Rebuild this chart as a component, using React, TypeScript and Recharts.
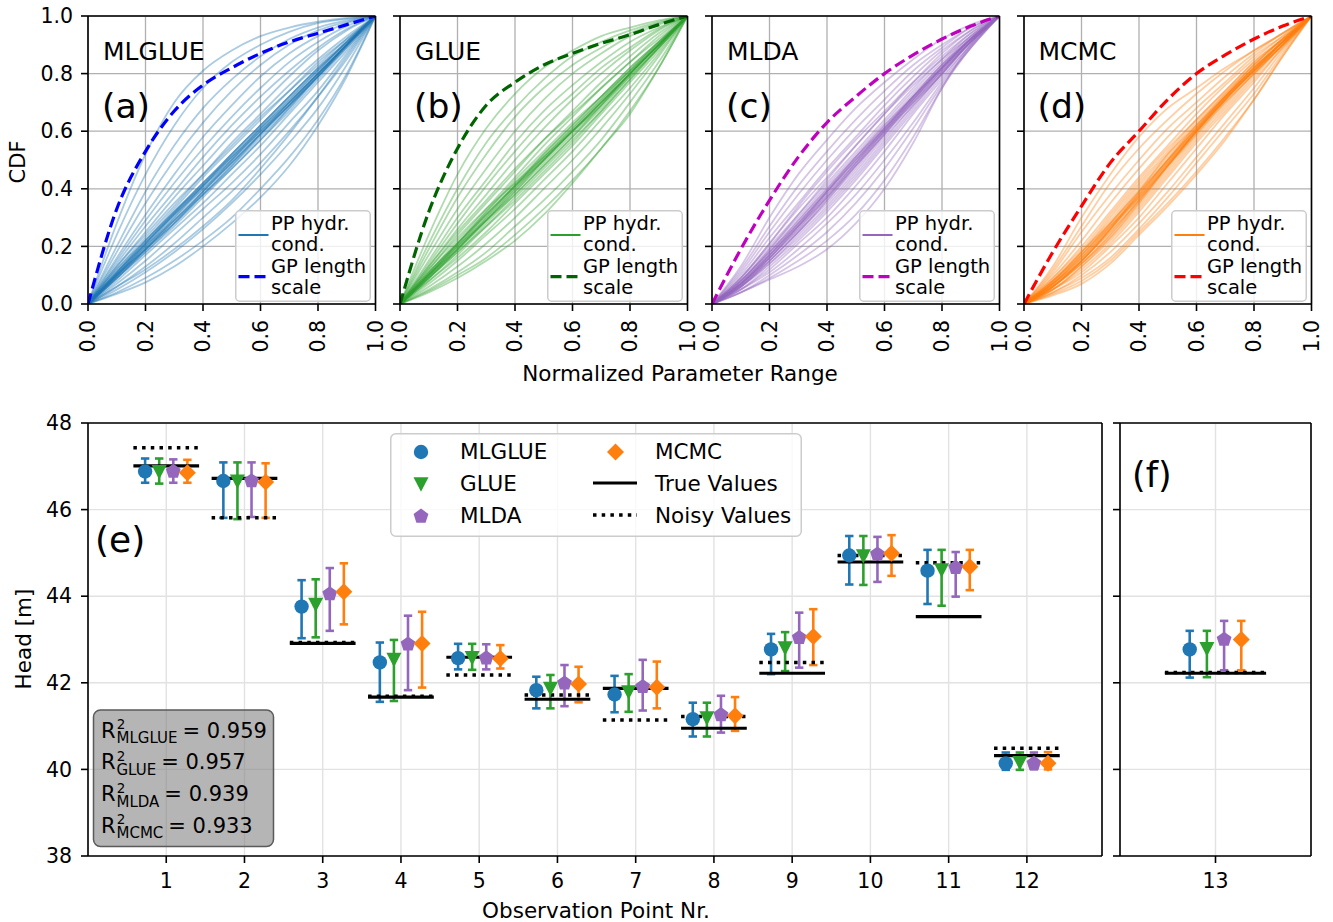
import React from 'react';
import {
  LineChart,
  Line,
  XAxis,
  YAxis,
  CartesianGrid,
  ReferenceLine,
  ScatterChart,
  Scatter,
  ErrorBar,
  Legend,
} from 'recharts';

const FONT = "'DejaVu Sans', 'Noto Sans', sans-serif";

// ---------------- top row: CDF data ----------------
const X_GRID = [0, 0.1, 0.2, 0.3, 0.4, 0.5, 0.6, 0.7, 0.8, 0.9, 1.0];
const CDF_TICKS = [0, 0.2, 0.4, 0.6, 0.8, 1.0];

const MLGLUE_CDFS = [
  [0, 0.28, 0.52, 0.7, 0.81, 0.88, 0.93, 0.96, 0.98, 0.993, 1],
  [0, 0.24, 0.45, 0.62, 0.75, 0.84, 0.9, 0.945, 0.975, 0.99, 1],
  [0, 0.2, 0.39, 0.55, 0.68, 0.78, 0.86, 0.92, 0.96, 0.985, 1],
  [0, 0.18, 0.35, 0.5, 0.63, 0.74, 0.83, 0.9, 0.95, 0.98, 1],
  [0, 0.16, 0.31, 0.45, 0.58, 0.69, 0.79, 0.87, 0.93, 0.975, 1],
  [0, 0.15, 0.29, 0.42, 0.54, 0.65, 0.75, 0.84, 0.91, 0.965, 1],
  [0, 0.14, 0.27, 0.39, 0.51, 0.62, 0.72, 0.81, 0.89, 0.955, 1],
  [0, 0.13, 0.25, 0.37, 0.48, 0.59, 0.69, 0.79, 0.88, 0.95, 1],
  [0, 0.12, 0.23, 0.34, 0.45, 0.56, 0.66, 0.76, 0.85, 0.93, 1],
  [0, 0.11, 0.22, 0.33, 0.44, 0.54, 0.64, 0.74, 0.84, 0.92, 1],
  [0, 0.11, 0.21, 0.32, 0.42, 0.52, 0.62, 0.72, 0.82, 0.91, 1],
  [0, 0.1, 0.2, 0.31, 0.41, 0.51, 0.61, 0.71, 0.81, 0.91, 1],
  [0, 0.1, 0.2, 0.3, 0.4, 0.5, 0.6, 0.7, 0.8, 0.9, 1],
  [0, 0.1, 0.19, 0.29, 0.39, 0.49, 0.59, 0.69, 0.79, 0.9, 1],
  [0, 0.09, 0.19, 0.28, 0.38, 0.48, 0.58, 0.68, 0.79, 0.89, 1],
  [0, 0.1, 0.21, 0.31, 0.41, 0.51, 0.61, 0.7, 0.8, 0.9, 1],
  [0, 0.09, 0.18, 0.27, 0.37, 0.47, 0.57, 0.67, 0.78, 0.89, 1],
  [0, 0.11, 0.21, 0.31, 0.4, 0.49, 0.59, 0.69, 0.8, 0.9, 1],
  [0, 0.09, 0.18, 0.28, 0.39, 0.5, 0.61, 0.71, 0.81, 0.91, 1],
  [0, 0.08, 0.17, 0.26, 0.35, 0.45, 0.55, 0.66, 0.77, 0.88, 1],
  [0, 0.07, 0.15, 0.24, 0.33, 0.42, 0.52, 0.63, 0.74, 0.87, 1],
  [0, 0.06, 0.13, 0.21, 0.3, 0.39, 0.49, 0.6, 0.72, 0.85, 1],
  [0, 0.05, 0.11, 0.18, 0.26, 0.35, 0.45, 0.56, 0.68, 0.83, 1],
  [0, 0.04, 0.09, 0.15, 0.22, 0.3, 0.4, 0.51, 0.64, 0.8, 1],
  [0, 0.035, 0.075, 0.13, 0.2, 0.28, 0.37, 0.48, 0.62, 0.79, 1],
  [0, 0.06, 0.12, 0.19, 0.27, 0.36, 0.47, 0.59, 0.72, 0.86, 1],
  [0, 0.105, 0.21, 0.315, 0.42, 0.52, 0.62, 0.72, 0.815, 0.905, 1],
  [0, 0.095, 0.19, 0.29, 0.39, 0.49, 0.59, 0.69, 0.79, 0.895, 1],
  [0, 0.1, 0.2, 0.29, 0.38, 0.47, 0.57, 0.68, 0.79, 0.9, 1],
  [0, 0.12, 0.22, 0.32, 0.41, 0.5, 0.6, 0.7, 0.8, 0.9, 1],
  [0, 0.09, 0.19, 0.3, 0.41, 0.52, 0.62, 0.72, 0.82, 0.91, 1],
  [0, 0.11, 0.22, 0.32, 0.42, 0.51, 0.6, 0.69, 0.79, 0.9, 1],
  [0, 0.1, 0.19, 0.28, 0.38, 0.48, 0.59, 0.7, 0.8, 0.9, 1],
  [0, 0.13, 0.24, 0.35, 0.45, 0.55, 0.65, 0.74, 0.83, 0.92, 1],
];
const MLGLUE_GP = [0, 0.33, 0.53, 0.67, 0.76, 0.82, 0.87, 0.91, 0.94, 0.97, 1];

const GLUE_CDFS = [
  [0, 0.24, 0.45, 0.61, 0.73, 0.82, 0.88, 0.93, 0.96, 0.985, 1],
  [0, 0.21, 0.4, 0.56, 0.68, 0.78, 0.86, 0.91, 0.95, 0.98, 1],
  [0, 0.19, 0.37, 0.52, 0.65, 0.75, 0.83, 0.89, 0.94, 0.975, 1],
  [0, 0.17, 0.33, 0.47, 0.6, 0.71, 0.8, 0.87, 0.93, 0.97, 1],
  [0, 0.15, 0.3, 0.43, 0.56, 0.67, 0.76, 0.84, 0.91, 0.96, 1],
  [0, 0.14, 0.28, 0.41, 0.53, 0.64, 0.73, 0.82, 0.89, 0.955, 1],
  [0, 0.13, 0.26, 0.38, 0.5, 0.61, 0.71, 0.8, 0.88, 0.95, 1],
  [0, 0.12, 0.24, 0.35, 0.46, 0.57, 0.67, 0.77, 0.86, 0.94, 1],
  [0, 0.11, 0.22, 0.33, 0.44, 0.55, 0.65, 0.75, 0.84, 0.93, 1],
  [0, 0.11, 0.21, 0.32, 0.42, 0.52, 0.62, 0.72, 0.82, 0.91, 1],
  [0, 0.1, 0.2, 0.31, 0.41, 0.51, 0.61, 0.71, 0.81, 0.91, 1],
  [0, 0.1, 0.2, 0.3, 0.4, 0.5, 0.6, 0.7, 0.8, 0.9, 1],
  [0, 0.1, 0.19, 0.29, 0.39, 0.49, 0.59, 0.69, 0.8, 0.9, 1],
  [0, 0.09, 0.19, 0.29, 0.39, 0.5, 0.6, 0.7, 0.8, 0.9, 1],
  [0, 0.09, 0.18, 0.28, 0.38, 0.48, 0.58, 0.68, 0.79, 0.89, 1],
  [0, 0.1, 0.21, 0.32, 0.43, 0.53, 0.63, 0.72, 0.81, 0.9, 1],
  [0, 0.08, 0.17, 0.27, 0.37, 0.47, 0.57, 0.67, 0.78, 0.89, 1],
  [0, 0.09, 0.18, 0.27, 0.36, 0.46, 0.56, 0.67, 0.78, 0.89, 1],
  [0, 0.08, 0.16, 0.25, 0.35, 0.45, 0.55, 0.66, 0.77, 0.88, 1],
  [0, 0.07, 0.15, 0.24, 0.33, 0.43, 0.53, 0.64, 0.75, 0.87, 1],
  [0, 0.06, 0.13, 0.21, 0.3, 0.4, 0.5, 0.61, 0.73, 0.86, 1],
  [0, 0.05, 0.11, 0.18, 0.27, 0.36, 0.46, 0.57, 0.7, 0.84, 1],
  [0, 0.045, 0.1, 0.16, 0.24, 0.33, 0.43, 0.54, 0.67, 0.82, 1],
  [0, 0.04, 0.09, 0.15, 0.22, 0.31, 0.42, 0.54, 0.66, 0.82, 1],
  [0, 0.105, 0.21, 0.31, 0.41, 0.51, 0.61, 0.71, 0.81, 0.905, 1],
  [0, 0.095, 0.19, 0.29, 0.4, 0.5, 0.6, 0.7, 0.8, 0.9, 1],
  [0, 0.1, 0.2, 0.29, 0.38, 0.48, 0.58, 0.69, 0.8, 0.9, 1],
  [0, 0.12, 0.23, 0.33, 0.42, 0.51, 0.6, 0.7, 0.8, 0.9, 1],
  [0, 0.09, 0.19, 0.3, 0.41, 0.52, 0.62, 0.72, 0.82, 0.91, 1],
  [0, 0.11, 0.21, 0.31, 0.41, 0.5, 0.6, 0.69, 0.79, 0.89, 1],
  [0, 0.13, 0.25, 0.36, 0.47, 0.57, 0.66, 0.75, 0.84, 0.92, 1],
];
const GLUE_GP = [0, 0.32, 0.54, 0.69, 0.77, 0.83, 0.87, 0.905, 0.935, 0.97, 1];

const MLDA_CDFS = [
  [0, 0.13, 0.3, 0.45, 0.57, 0.68, 0.77, 0.85, 0.92, 0.97, 1],
  [0, 0.12, 0.27, 0.41, 0.53, 0.64, 0.74, 0.83, 0.9, 0.96, 1],
  [0, 0.11, 0.25, 0.38, 0.5, 0.61, 0.71, 0.81, 0.89, 0.96, 1],
  [0, 0.1, 0.23, 0.35, 0.47, 0.58, 0.69, 0.79, 0.88, 0.95, 1],
  [0, 0.09, 0.21, 0.33, 0.44, 0.55, 0.66, 0.77, 0.87, 0.95, 1],
  [0, 0.09, 0.2, 0.31, 0.42, 0.53, 0.64, 0.75, 0.85, 0.94, 1],
  [0, 0.08, 0.19, 0.3, 0.41, 0.52, 0.63, 0.74, 0.84, 0.93, 1],
  [0, 0.08, 0.18, 0.29, 0.4, 0.51, 0.62, 0.73, 0.83, 0.93, 1],
  [0, 0.07, 0.17, 0.28, 0.39, 0.5, 0.61, 0.72, 0.82, 0.92, 1],
  [0, 0.07, 0.17, 0.27, 0.38, 0.49, 0.6, 0.71, 0.82, 0.92, 1],
  [0, 0.07, 0.16, 0.26, 0.37, 0.48, 0.59, 0.7, 0.81, 0.92, 1],
  [0, 0.06, 0.15, 0.25, 0.36, 0.47, 0.59, 0.7, 0.81, 0.91, 1],
  [0, 0.06, 0.15, 0.25, 0.35, 0.46, 0.58, 0.69, 0.8, 0.91, 1],
  [0, 0.06, 0.14, 0.24, 0.34, 0.45, 0.57, 0.69, 0.8, 0.91, 1],
  [0, 0.07, 0.16, 0.27, 0.39, 0.51, 0.62, 0.72, 0.82, 0.91, 1],
  [0, 0.05, 0.13, 0.22, 0.32, 0.43, 0.55, 0.67, 0.79, 0.9, 1],
  [0, 0.05, 0.12, 0.21, 0.3, 0.41, 0.53, 0.66, 0.78, 0.9, 1],
  [0, 0.05, 0.11, 0.19, 0.28, 0.38, 0.5, 0.63, 0.77, 0.89, 1],
  [0, 0.04, 0.1, 0.17, 0.25, 0.35, 0.47, 0.61, 0.76, 0.89, 1],
  [0, 0.04, 0.09, 0.15, 0.22, 0.31, 0.43, 0.58, 0.75, 0.89, 1],
  [0, 0.04, 0.085, 0.13, 0.19, 0.28, 0.4, 0.56, 0.75, 0.9, 1],
  [0, 0.08, 0.19, 0.31, 0.43, 0.55, 0.66, 0.76, 0.85, 0.93, 1],
  [0, 0.06, 0.14, 0.23, 0.33, 0.44, 0.56, 0.68, 0.8, 0.91, 1],
  [0, 0.09, 0.21, 0.34, 0.46, 0.57, 0.67, 0.77, 0.86, 0.94, 1],
  [0, 0.07, 0.17, 0.28, 0.39, 0.5, 0.61, 0.71, 0.81, 0.91, 1],
  [0, 0.065, 0.16, 0.27, 0.38, 0.49, 0.6, 0.71, 0.82, 0.92, 1],
  [0, 0.075, 0.18, 0.29, 0.4, 0.51, 0.61, 0.72, 0.82, 0.92, 1],
  [0, 0.06, 0.16, 0.26, 0.37, 0.49, 0.61, 0.72, 0.83, 0.92, 1],
  [0, 0.07, 0.17, 0.27, 0.37, 0.48, 0.59, 0.71, 0.82, 0.92, 1],
  [0, 0.08, 0.18, 0.28, 0.39, 0.5, 0.6, 0.7, 0.8, 0.91, 1],
  [0, 0.065, 0.15, 0.25, 0.36, 0.48, 0.6, 0.72, 0.83, 0.92, 1],
];
const MLDA_GP = [0, 0.19, 0.36, 0.51, 0.63, 0.72, 0.8, 0.865, 0.92, 0.965, 1];

const MCMC_CDFS = [
  [0, 0.13, 0.3, 0.45, 0.58, 0.68, 0.75, 0.82, 0.88, 0.94, 1],
  [0, 0.12, 0.27, 0.42, 0.54, 0.64, 0.73, 0.81, 0.88, 0.94, 1],
  [0, 0.11, 0.25, 0.38, 0.5, 0.61, 0.7, 0.79, 0.87, 0.94, 1],
  [0, 0.1, 0.22, 0.35, 0.47, 0.58, 0.68, 0.77, 0.86, 0.93, 1],
  [0, 0.09, 0.2, 0.32, 0.44, 0.55, 0.66, 0.76, 0.85, 0.93, 1],
  [0, 0.08, 0.18, 0.3, 0.42, 0.53, 0.64, 0.74, 0.84, 0.92, 1],
  [0, 0.08, 0.17, 0.28, 0.4, 0.51, 0.62, 0.73, 0.83, 0.92, 1],
  [0, 0.07, 0.16, 0.27, 0.38, 0.5, 0.61, 0.72, 0.82, 0.91, 1],
  [0, 0.07, 0.15, 0.26, 0.37, 0.49, 0.6, 0.71, 0.81, 0.91, 1],
  [0, 0.06, 0.15, 0.25, 0.36, 0.48, 0.6, 0.71, 0.81, 0.91, 1],
  [0, 0.06, 0.14, 0.24, 0.35, 0.47, 0.59, 0.7, 0.8, 0.9, 1],
  [0, 0.06, 0.14, 0.23, 0.34, 0.46, 0.58, 0.69, 0.8, 0.9, 1],
  [0, 0.07, 0.16, 0.26, 0.38, 0.5, 0.62, 0.72, 0.82, 0.91, 1],
  [0, 0.05, 0.13, 0.22, 0.33, 0.45, 0.57, 0.68, 0.79, 0.9, 1],
  [0, 0.05, 0.12, 0.21, 0.32, 0.44, 0.56, 0.67, 0.78, 0.89, 1],
  [0, 0.05, 0.11, 0.2, 0.3, 0.42, 0.54, 0.66, 0.77, 0.89, 1],
  [0, 0.04, 0.1, 0.18, 0.28, 0.39, 0.51, 0.63, 0.75, 0.88, 1],
  [0, 0.04, 0.09, 0.16, 0.26, 0.37, 0.49, 0.61, 0.73, 0.87, 1],
  [0, 0.035, 0.08, 0.15, 0.25, 0.35, 0.46, 0.58, 0.71, 0.86, 1],
  [0, 0.03, 0.07, 0.14, 0.24, 0.34, 0.45, 0.57, 0.71, 0.86, 1],
  [0, 0.09, 0.19, 0.31, 0.43, 0.54, 0.64, 0.74, 0.84, 0.92, 1],
  [0, 0.06, 0.15, 0.26, 0.39, 0.52, 0.63, 0.73, 0.83, 0.92, 1],
  [0, 0.05, 0.13, 0.23, 0.35, 0.48, 0.6, 0.71, 0.81, 0.91, 1],
  [0, 0.08, 0.18, 0.29, 0.41, 0.52, 0.62, 0.72, 0.81, 0.9, 1],
  [0, 0.07, 0.16, 0.27, 0.38, 0.49, 0.6, 0.71, 0.81, 0.91, 1],
  [0, 0.065, 0.15, 0.26, 0.37, 0.49, 0.61, 0.72, 0.82, 0.91, 1],
  [0, 0.075, 0.17, 0.28, 0.39, 0.5, 0.61, 0.71, 0.81, 0.9, 1],
  [0, 0.06, 0.15, 0.25, 0.36, 0.48, 0.6, 0.71, 0.82, 0.91, 1],
  [0, 0.07, 0.17, 0.27, 0.37, 0.48, 0.59, 0.7, 0.8, 0.9, 1],
  [0, 0.08, 0.18, 0.28, 0.39, 0.5, 0.61, 0.72, 0.82, 0.91, 1],
  [0, 0.06, 0.14, 0.24, 0.36, 0.48, 0.6, 0.72, 0.83, 0.92, 1],
];
const MCMC_GP = [0, 0.18, 0.34, 0.49, 0.6, 0.71, 0.8, 0.865, 0.92, 0.965, 1];

// ---------------- bottom row: head data ----------------
const OBS = [1, 2, 3, 4, 5, 6, 7, 8, 9, 10, 11, 12, 13];
const OBS_TICKS_E = [1, 2, 3, 4, 5, 6, 7, 8, 9, 10, 11, 12];
const OBS_TICKS_F = [13];
const HEAD_TICKS = [38, 40, 42, 44, 46, 48];

const TRUE_VALUES = [47.01, 46.72, 42.91, 41.67, 42.59, 41.62, 41.87, 40.95, 42.22, 44.79, 43.53, 40.32, 42.22];
const NOISY_VALUES = [47.43, 45.81, 42.93, 41.69, 42.18, 41.72, 41.14, 41.22, 42.47, 44.94, 44.77, 40.49, 42.24];

const MLGLUE_MEAN = [46.88, 46.66, 43.76, 42.47, 42.57, 41.83, 41.73, 41.16, 42.77, 44.94, 44.59, 40.14, 42.77];
const MLGLUE_LOW = [46.62, 45.81, 43.03, 41.56, 42.31, 41.41, 41.32, 40.76, 42.2, 44.27, 43.82, 39.99, 42.12];
const MLGLUE_HIGH = [47.18, 47.09, 44.37, 42.93, 42.9, 42.14, 42.16, 41.54, 43.13, 45.39, 45.07, 40.39, 43.2];

const GLUE_MEAN = [46.87, 46.65, 43.8, 42.53, 42.57, 41.86, 41.78, 41.18, 42.8, 44.92, 44.6, 40.15, 42.78];
const GLUE_LOW = [46.6, 45.78, 43.05, 41.58, 42.3, 41.41, 41.33, 40.76, 42.27, 44.26, 43.78, 39.99, 42.13];
const GLUE_HIGH = [47.18, 47.09, 44.39, 42.99, 42.9, 42.18, 42.2, 41.54, 43.17, 45.39, 45.07, 40.39, 43.2];

const MLDA_MEAN = [46.88, 46.66, 44.05, 42.89, 42.57, 41.99, 41.91, 41.26, 43.04, 44.97, 44.66, 40.14, 43.0];
const MLDA_LOW = [46.62, 45.83, 43.2, 41.83, 42.31, 41.46, 41.36, 40.85, 42.35, 44.33, 43.99, 40.0, 42.29];
const MLDA_HIGH = [47.16, 47.09, 44.65, 43.55, 42.89, 42.41, 42.53, 41.7, 43.62, 45.37, 45.02, 40.39, 43.43];

const MCMC_MEAN = [46.85, 46.64, 44.1, 42.91, 42.56, 41.97, 41.9, 41.24, 43.07, 44.99, 44.68, 40.14, 43.0];
const MCMC_LOW = [46.62, 45.81, 43.35, 41.89, 42.33, 41.55, 41.41, 40.89, 42.41, 44.47, 44.14, 40.0, 42.29];
const MCMC_HIGH = [47.15, 47.07, 44.76, 43.64, 42.87, 42.37, 42.49, 41.67, 43.7, 45.41, 45.07, 40.4, 43.43];

const R2_NAMES = ['MLGLUE', 'GLUE', 'MLDA', 'MCMC'];
const R2_VALUES = ['0.959', '0.957', '0.939', '0.933'];

// ---------------- styling / layout constants ----------------
const COLORS = ['#1f77b4', '#2ca02c', '#9467bd', '#ff7f0e'];
const GP_COLORS = ['#0000ff', '#006400', '#bf00bf', '#ff0000'];
const METHOD_OFFSETS = [-0.27, -0.09, 0.09, 0.27];
const HALF_E = 0.42;
const HALF_F = 0.53;

const TOP_Y = 16;
const PANEL_W = 287.5;
const PANEL_H = 288;
const AXW = 80;
const RM = 14;
const XAH = 62;
const PANEL_LEFTS = [88, 400, 712, 1023.5];

type Kind = 'circle' | 'triangleDown' | 'pentagon' | 'diamond';

const PANELS = [
  { name: 'MLGLUE', tag: '(a)', curves: MLGLUE_CDFS, gp: MLGLUE_GP },
  { name: 'GLUE', tag: '(b)', curves: GLUE_CDFS, gp: GLUE_GP },
  { name: 'MLDA', tag: '(c)', curves: MLDA_CDFS, gp: MLDA_GP },
  { name: 'MCMC', tag: '(d)', curves: MCMC_CDFS, gp: MCMC_GP },
];

const METHODS: { name: string; kind: Kind; mean: number[]; low: number[]; high: number[] }[] = [
  { name: 'MLGLUE', kind: 'circle', mean: MLGLUE_MEAN, low: MLGLUE_LOW, high: MLGLUE_HIGH },
  { name: 'GLUE', kind: 'triangleDown', mean: GLUE_MEAN, low: GLUE_LOW, high: GLUE_HIGH },
  { name: 'MLDA', kind: 'pentagon', mean: MLDA_MEAN, low: MLDA_LOW, high: MLDA_HIGH },
  { name: 'MCMC', kind: 'diamond', mean: MCMC_MEAN, low: MCMC_LOW, high: MCMC_HIGH },
];

const toLineData = (vals: number[]) => X_GRID.map((x, i) => ({ x, y: vals[i] }));

const methodData = (k: number, from: number, to: number) => {
  const m = METHODS[k];
  const out: { x: number; y: number; err: number[] }[] = [];
  for (let i = from; i < to; i++) {
    out.push({
      x: OBS[i] + METHOD_OFFSETS[k],
      y: m.mean[i],
      err: [m.mean[i] - m.low[i], m.high[i] - m.mean[i]],
    });
  }
  return out;
};

function Marker({ kind, cx, cy, color }: { kind: Kind; cx: number; cy: number; color: string }) {
  if (cx == null || cy == null || isNaN(cx) || isNaN(cy)) return <g />;
  if (kind === 'circle') return <circle cx={cx} cy={cy} r={7.2} fill={color} />;
  if (kind === 'triangleDown')
    return <path d={`M${cx - 7.5},${cy - 7} L${cx + 7.5},${cy - 7} L${cx},${cy + 7.5} Z`} fill={color} />;
  if (kind === 'pentagon') {
    const pts = [0, 1, 2, 3, 4]
      .map((k) => {
        const a = ((-90 + 72 * k) * Math.PI) / 180;
        return `${cx + 7.8 * Math.cos(a)},${cy + 7.8 * Math.sin(a)}`;
      })
      .join(' ');
    return <polygon points={pts} fill={color} />;
  }
  return <path d={`M${cx},${cy - 8.5} L${cx + 8.5},${cy} L${cx},${cy + 8.5} L${cx - 8.5},${cy} Z`} fill={color} />;
}

const RotTick = (props: any) => {
  const { x, y, payload } = props;
  return (
    <text
      x={x}
      y={y}
      transform={`rotate(-90 ${x} ${y})`}
      textAnchor="end"
      dy="0.36em"
      fontSize={20.5}
      fontFamily={FONT}
      fill="#000"
    >
      {Number(payload.value).toFixed(1)}
    </text>
  );
};

const txt = { fontFamily: FONT, fill: '#000' } as const;

function CdfLegend({ color, dashColor }: { color: string; dashColor: string }) {
  const fs = 19.5;
  return (
    <svg width={136} height={92} style={{ display: 'block' }}>
      <rect x={0.75} y={0.75} width={134.5} height={90.5} rx={4} fill="#fff" fillOpacity={0.8} stroke="#cccccc" strokeWidth={1.5} />
      <line x1={3.5} x2={33.5} y1={25} y2={25} stroke={color} strokeWidth={2} />
      <line x1={3.5} x2={33.5} y1={66.7} y2={66.7} stroke={dashColor} strokeWidth={3.2} strokeDasharray="11 5" />
      <text x={36} y={20} fontSize={fs} {...txt}>PP hydr.</text>
      <text x={36} y={40.7} fontSize={fs} {...txt}>cond.</text>
      <text x={36} y={63.3} fontSize={fs} {...txt}>GP length</text>
      <text x={36} y={84} fontSize={fs} {...txt}>scale</text>
    </svg>
  );
}

function CdfPanel({ idx }: { idx: number }) {
  const p = PANELS[idx];
  const color = COLORS[idx];
  const dashColor = GP_COLORS[idx];
  const width = AXW + PANEL_W + RM;
  const height = TOP_Y + PANEL_H + XAH;
  const showY = idx === 0;
  return (
    <div style={{ position: 'absolute', left: PANEL_LEFTS[idx] - AXW, top: 0 }}>
      <LineChart width={width} height={height} margin={{ top: TOP_Y, right: RM, bottom: 0, left: 0 }}>
        <CartesianGrid stroke="#b0b0b0" strokeWidth={1.3} />
        <XAxis
          type="number"
          dataKey="x"
          domain={[0, 1]}
          ticks={CDF_TICKS}
          interval={0}
          allowDataOverflow
          height={XAH}
          tickSize={7}
          tickMargin={9}
          axisLine={{ stroke: '#000', strokeWidth: 1.6 }}
          tickLine={{ stroke: '#000', strokeWidth: 1.6 }}
          tick={<RotTick />}
        />
        <YAxis
          type="number"
          domain={[0, 1]}
          ticks={CDF_TICKS}
          interval={0}
          allowDataOverflow
          width={AXW}
          tickSize={7}
          tickMargin={8}
          axisLine={{ stroke: '#000', strokeWidth: 1.6 }}
          tickLine={{ stroke: '#000', strokeWidth: 1.6 }}
          tick={{ fontSize: 20.5, fontFamily: FONT, fill: '#000' }}
          tickFormatter={(v: number) => (showY ? Number(v).toFixed(1) : '')}
        />
        {p.curves.map((c, i) => (
          <Line
            key={i}
            data={toLineData(c)}
            dataKey="y"
            type="monotone"
            stroke={color}
            strokeOpacity={0.38}
            strokeWidth={1.8}
            dot={false}
            activeDot={false}
            isAnimationActive={false}
          />
        ))}
        <Line
          data={toLineData(p.gp)}
          dataKey="y"
          type="monotone"
          stroke={dashColor}
          strokeWidth={3.2}
          strokeDasharray="11 5"
          dot={false}
          activeDot={false}
          isAnimationActive={false}
        />
        <ReferenceLine y={1} stroke="#000" strokeWidth={1.6} />
        <ReferenceLine x={1} stroke="#000" strokeWidth={1.6} />
        <Legend
          layout="horizontal"
          verticalAlign="middle"
          align="center"
          wrapperStyle={{ left: AXW + 147, top: TOP_Y + 194, width: 136, height: 92, lineHeight: 0 }}
          content={() => <CdfLegend color={color} dashColor={dashColor} />}
        />
      </LineChart>
    </div>
  );
}

function HeadLegend() {
  const fs = 21.5;
  return (
    <svg width={412} height={104} style={{ display: 'block' }}>
      <rect x={0.75} y={0.75} width={410.5} height={102.5} rx={5} fill="#fff" fillOpacity={0.8} stroke="#cccccc" strokeWidth={1.5} />
      {[0, 1, 2].map((k) => (
        <g key={k}>
          <Marker kind={METHODS[k].kind} cx={31} cy={19 + 32.2 * k} color={COLORS[k]} />
          <text x={70} y={26 + 32.2 * k} fontSize={fs} {...txt}>{METHODS[k].name}</text>
        </g>
      ))}
      <Marker kind="diamond" cx={225.5} cy={19} color={COLORS[3]} />
      <text x={265} y={26} fontSize={fs} {...txt}>{METHODS[3].name}</text>
      <line x1={203} x2={247} y1={50} y2={50} stroke="#000" strokeWidth={3.2} />
      <text x={265} y={58} fontSize={fs} {...txt}>True Values</text>
      <line x1={203} x2={247} y1={82} y2={82} stroke="#000" strokeWidth={3.5} strokeDasharray="3.5 5.2" />
      <text x={265} y={90} fontSize={fs} {...txt}>Noisy Values</text>
    </svg>
  );
}

const BOT_TOP = 400;
const BOT_MT = 23;
const BOT_H = 433;
const BOT_XAH = 55;

function HeadPanel({ part }: { part: 'e' | 'f' }) {
  const isE = part === 'e';
  const from = isE ? 0 : 12;
  const to = isE ? 12 : 13;
  const axw = isE ? 88 : 22;
  const plotW = isE ? 1014 : 191;
  const left = isE ? 0 : 1120 - axw;
  const domain: [number, number] = isE ? [0, 12.96] : [12, 14];
  const half = isE ? HALF_E : HALF_F;
  const rm = 12;
  return (
    <div style={{ position: 'absolute', left, top: BOT_TOP }}>
      <ScatterChart
        width={axw + plotW + rm}
        height={BOT_MT + BOT_H + BOT_XAH}
        margin={{ top: BOT_MT, right: rm, bottom: 0, left: 0 }}
      >
        <CartesianGrid stroke="#e2e2e2" strokeWidth={1.4} />
        <XAxis
          type="number"
          dataKey="x"
          domain={domain}
          ticks={isE ? OBS_TICKS_E : OBS_TICKS_F}
          interval={0}
          allowDataOverflow
          height={BOT_XAH}
          tickSize={7}
          tickMargin={10}
          axisLine={{ stroke: '#000', strokeWidth: 1.6 }}
          tickLine={{ stroke: '#000', strokeWidth: 1.6 }}
          tick={{ fontSize: 20.5, fontFamily: FONT, fill: '#000' }}
        />
        <YAxis
          type="number"
          dataKey="y"
          domain={[38, 48]}
          ticks={HEAD_TICKS}
          interval={0}
          allowDataOverflow
          width={axw}
          tickSize={7}
          tickMargin={9}
          axisLine={{ stroke: '#000', strokeWidth: 1.6 }}
          tickLine={{ stroke: '#000', strokeWidth: 1.6 }}
          tick={{ fontSize: 20.5, fontFamily: FONT, fill: '#000' }}
          tickFormatter={(v: number) => (isE ? String(v) : '')}
        />
        <ReferenceLine y={48} stroke="#000" strokeWidth={1.6} />
        <ReferenceLine x={domain[1]} stroke="#000" strokeWidth={1.6} />
        {METHODS.map((m, k) => (
          <Scatter
            key={m.name}
            name={m.name}
            data={methodData(k, from, to)}
            fill={COLORS[k]}
            isAnimationActive={false}
            shape={(sp: any) => <Marker kind={m.kind} cx={sp.cx} cy={sp.cy} color={COLORS[k]} />}
          >
            <ErrorBar dataKey="err" direction="y" width={4.2} stroke={COLORS[k]} strokeWidth={2.6} isAnimationActive={false} />
          </Scatter>
        ))}
        {OBS.slice(from, to).map((o, j) => (
          <ReferenceLine
            key={'n' + o}
            segment={[
              { x: o - half, y: NOISY_VALUES[from + j] },
              { x: o + half, y: NOISY_VALUES[from + j] },
            ]}
            stroke="#000"
            strokeWidth={3.5}
            strokeDasharray="3.5 5.2"
          />
        ))}
        {OBS.slice(from, to).map((o, j) => (
          <ReferenceLine
            key={'t' + o}
            segment={[
              { x: o - half, y: TRUE_VALUES[from + j] },
              { x: o + half, y: TRUE_VALUES[from + j] },
            ]}
            stroke="#000"
            strokeWidth={3.2}
          />
        ))}
        {isE && (
          <Legend
            layout="horizontal"
            verticalAlign="middle"
            align="center"
            wrapperStyle={{ left: 390.4, top: 432.7 - BOT_TOP, width: 412, height: 104, lineHeight: 0 }}
            content={() => <HeadLegend />}
          />
        )}
      </ScatterChart>
    </div>
  );
}

function Overlay() {
  const r2Base = [737.7, 769.3, 801, 832.7];
  return (
    <svg
      width={1333}
      height={922}
      style={{ position: 'absolute', left: 0, top: 0, pointerEvents: 'none' }}
    >
      {PANELS.map((p, i) => (
        <g key={p.name}>
          <text x={PANEL_LEFTS[i] + 15} y={60} fontSize={25} {...txt}>{p.name}</text>
          <text x={PANEL_LEFTS[i] + 14} y={118} fontSize={34.5} {...txt}>{p.tag}</text>
        </g>
      ))}
      <text transform="translate(25,162) rotate(-90)" textAnchor="middle" fontSize={21} {...txt}>CDF</text>
      <text x={680} y={381} textAnchor="middle" fontSize={21.5} {...txt}>Normalized Parameter Range</text>
      <text transform="translate(31,639) rotate(-90)" textAnchor="middle" fontSize={21.5} {...txt}>Head [m]</text>
      <text x={596} y={918} textAnchor="middle" fontSize={21.5} {...txt}>Observation Point Nr.</text>
      <text x={95} y={552} fontSize={36} {...txt}>(e)</text>
      <text x={1132} y={487} fontSize={35} {...txt}>(f)</text>
      <rect x={93.5} y={710} width={180} height={136.5} rx={7} fill="#808080" fillOpacity={0.58} stroke="#5a5a5a" strokeWidth={1.5} />
      {R2_NAMES.map((n, i) => (
        <g key={n}>
          <text x={101} y={r2Base[i]} fontSize={21} {...txt}>
            R
            <tspan fontSize={15} x={116.5} dy={5.5}>{n}</tspan>
            <tspan fontSize={21} dy={-5.5} dx={5}>{'= ' + R2_VALUES[i]}</tspan>
          </text>
          <text x={116.8} y={r2Base[i] - 8.5} fontSize={13.5} {...txt}>2</text>
        </g>
      ))}
    </svg>
  );
}

export default function App() {
  return (
    <div
      style={{
        position: 'absolute',
        left: 0,
        top: 0,
        width: 1333,
        height: 922,
        background: '#fff',
        fontFamily: FONT,
        overflow: 'hidden',
      }}
    >
      {[0, 1, 2, 3].map((i) => (
        <CdfPanel key={i} idx={i} />
      ))}
      <HeadPanel part="e" />
      <HeadPanel part="f" />
      <Overlay />
    </div>
  );
}
